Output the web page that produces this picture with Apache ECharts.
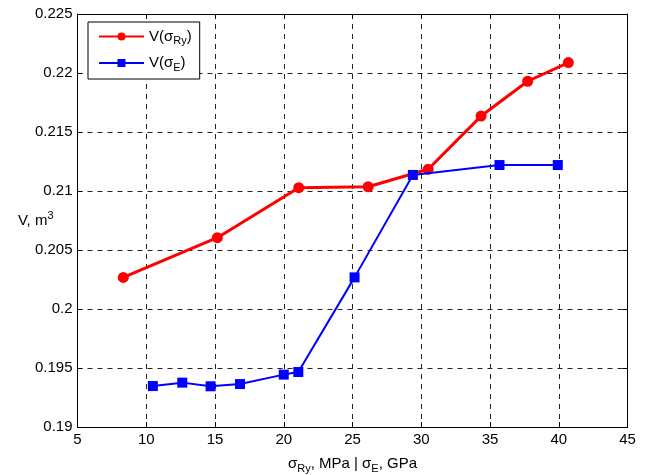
<!DOCTYPE html>
<html>
<head>
<meta charset="utf-8">
<script src="https://cdn.jsdelivr.net/npm/echarts@6/dist/echarts.min.js"></script>
<style>html,body{margin:0;padding:0;background:#fff;}#c{width:647px;height:475px;}</style>
</head>
<body>
<div id="c"></div>
<script>
// Data
const ryX = [8.33, 15.17, 21.09, 26.14, 30.5, 34.35, 37.74, 40.7];
const ryY = [0.20268, 0.20604, 0.21028, 0.21036, 0.21184, 0.21635, 0.2193, 0.22088];
const eX = [10.48, 12.62, 14.68, 16.82, 20.0, 21.06, 25.15, 29.39, 35.69, 39.93];
const eY = [0.19347, 0.19376, 0.19345, 0.19364, 0.19444, 0.19466, 0.20268, 0.21136, 0.2122, 0.2122];
const xTicks = [5, 10, 15, 20, 25, 30, 35, 40, 45];
const yTicks = [0.19, 0.195, 0.2, 0.205, 0.21, 0.215, 0.22, 0.225];
const seriesNames = ['V(σRy)', 'V(σE)'];

const FONT = 'Liberation Sans, Arial, sans-serif';
const FS = 15;
const chart = echarts.init(document.getElementById('c'), null, {renderer: 'canvas'});
const pair = (xs, ys) => xs.map((x, i) => [x, ys[i]]);

const richBase = {
  b: {fontSize: FS, fontFamily: FONT, color: '#000', lineHeight: 20, verticalAlign: 'middle'},
  s: {fontSize: 11, fontFamily: FONT, color: '#000', lineHeight: 11, verticalAlign: 'bottom'},
  p: {fontSize: 11, fontFamily: FONT, color: '#000', lineHeight: 11, verticalAlign: 'top'}
};

const axisCommon = {
  type: 'value',
  axisLine: {show: true, onZero: false, lineStyle: {color: '#000', width: 1}},
  axisTick: {show: true, inside: true, length: 5, lineStyle: {color: '#000'}},
  splitLine: {show: false}
};

chart.setOption({
  animation: false,
  backgroundColor: '#fff',
  grid: {left: 77.5, right: 19.5, top: 14, bottom: 48, show: false,
         containLabel: false, outerBoundsMode: 'none'},
  legend: {
    left: 88, top: 22, orient: 'vertical',
    backgroundColor: '#fff', borderColor: '#000', borderWidth: 1,
    padding: [7, 8, 6, 10], itemGap: 9,
    itemWidth: 45, itemHeight: 10,
    data: seriesNames,
    formatter: function (n) {
      if (n === seriesNames[0]) return '{b|V(σ}{s|Ry}{b|)}';
      return '{b|V(σ}{s|E}{b|)}';
    },
    textStyle: {rich: richBase, fontFamily: FONT, fontSize: FS, color: '#000'}
  },
  xAxis: [
    Object.assign({}, axisCommon, {
      min: 5, max: 45, interval: 5, position: 'bottom',
      axisLabel: {color: '#000', fontSize: FS, fontFamily: FONT, margin: 5,
        formatter: v => xTicks.includes(v) ? String(v) : ''},
      splitLine: {show: true, lineStyle: {color: '#222', type: [5, 5], width: 1}},
      name: '{b|σ}{s|Ry}{b|, MPa | σ}{s|E}{b|, GPa}',
      nameLocation: 'middle', nameGap: 27, nameMoveOverlap: false,
      nameTextStyle: {rich: richBase}
    }),
    Object.assign({}, axisCommon, {
      min: 5, max: 45, interval: 5, position: 'top',
      axisLabel: {show: false}
    })
  ],
  yAxis: [
    Object.assign({}, axisCommon, {
      min: 0.19, max: 0.225, interval: 0.005, position: 'left',
      axisLabel: {color: '#000', fontSize: FS, fontFamily: FONT, margin: 5,
        formatter: v => {
          const t = yTicks.find(k => Math.abs(k - v) < 1e-9);
          return t === undefined ? '' : String(t);
        }},
      splitLine: {show: true, lineStyle: {color: '#222', type: [5, 5], width: 1}},
      name: '{b|V, m}{p|3}', nameLocation: 'middle', nameGap: 24, nameRotate: 0,
      nameMoveOverlap: false,
      nameTextStyle: {rich: richBase}
    }),
    Object.assign({}, axisCommon, {
      min: 0.19, max: 0.225, interval: 0.005, position: 'right',
      axisLabel: {show: false}
    })
  ],
  series: [
    {
      name: seriesNames[0], type: 'line', data: pair(ryX, ryY),
      symbol: 'circle', symbolSize: 11,
      lineStyle: {color: '#ff0000', width: 3},
      itemStyle: {color: '#ff0000'}, z: 3
    },
    {
      name: seriesNames[1], type: 'line', data: pair(eX, eY),
      symbol: 'rect', symbolSize: 10,
      lineStyle: {color: '#0000ff', width: 2},
      itemStyle: {color: '#0000ff'}, z: 4
    }
  ]
});
</script>
</body>
</html>
